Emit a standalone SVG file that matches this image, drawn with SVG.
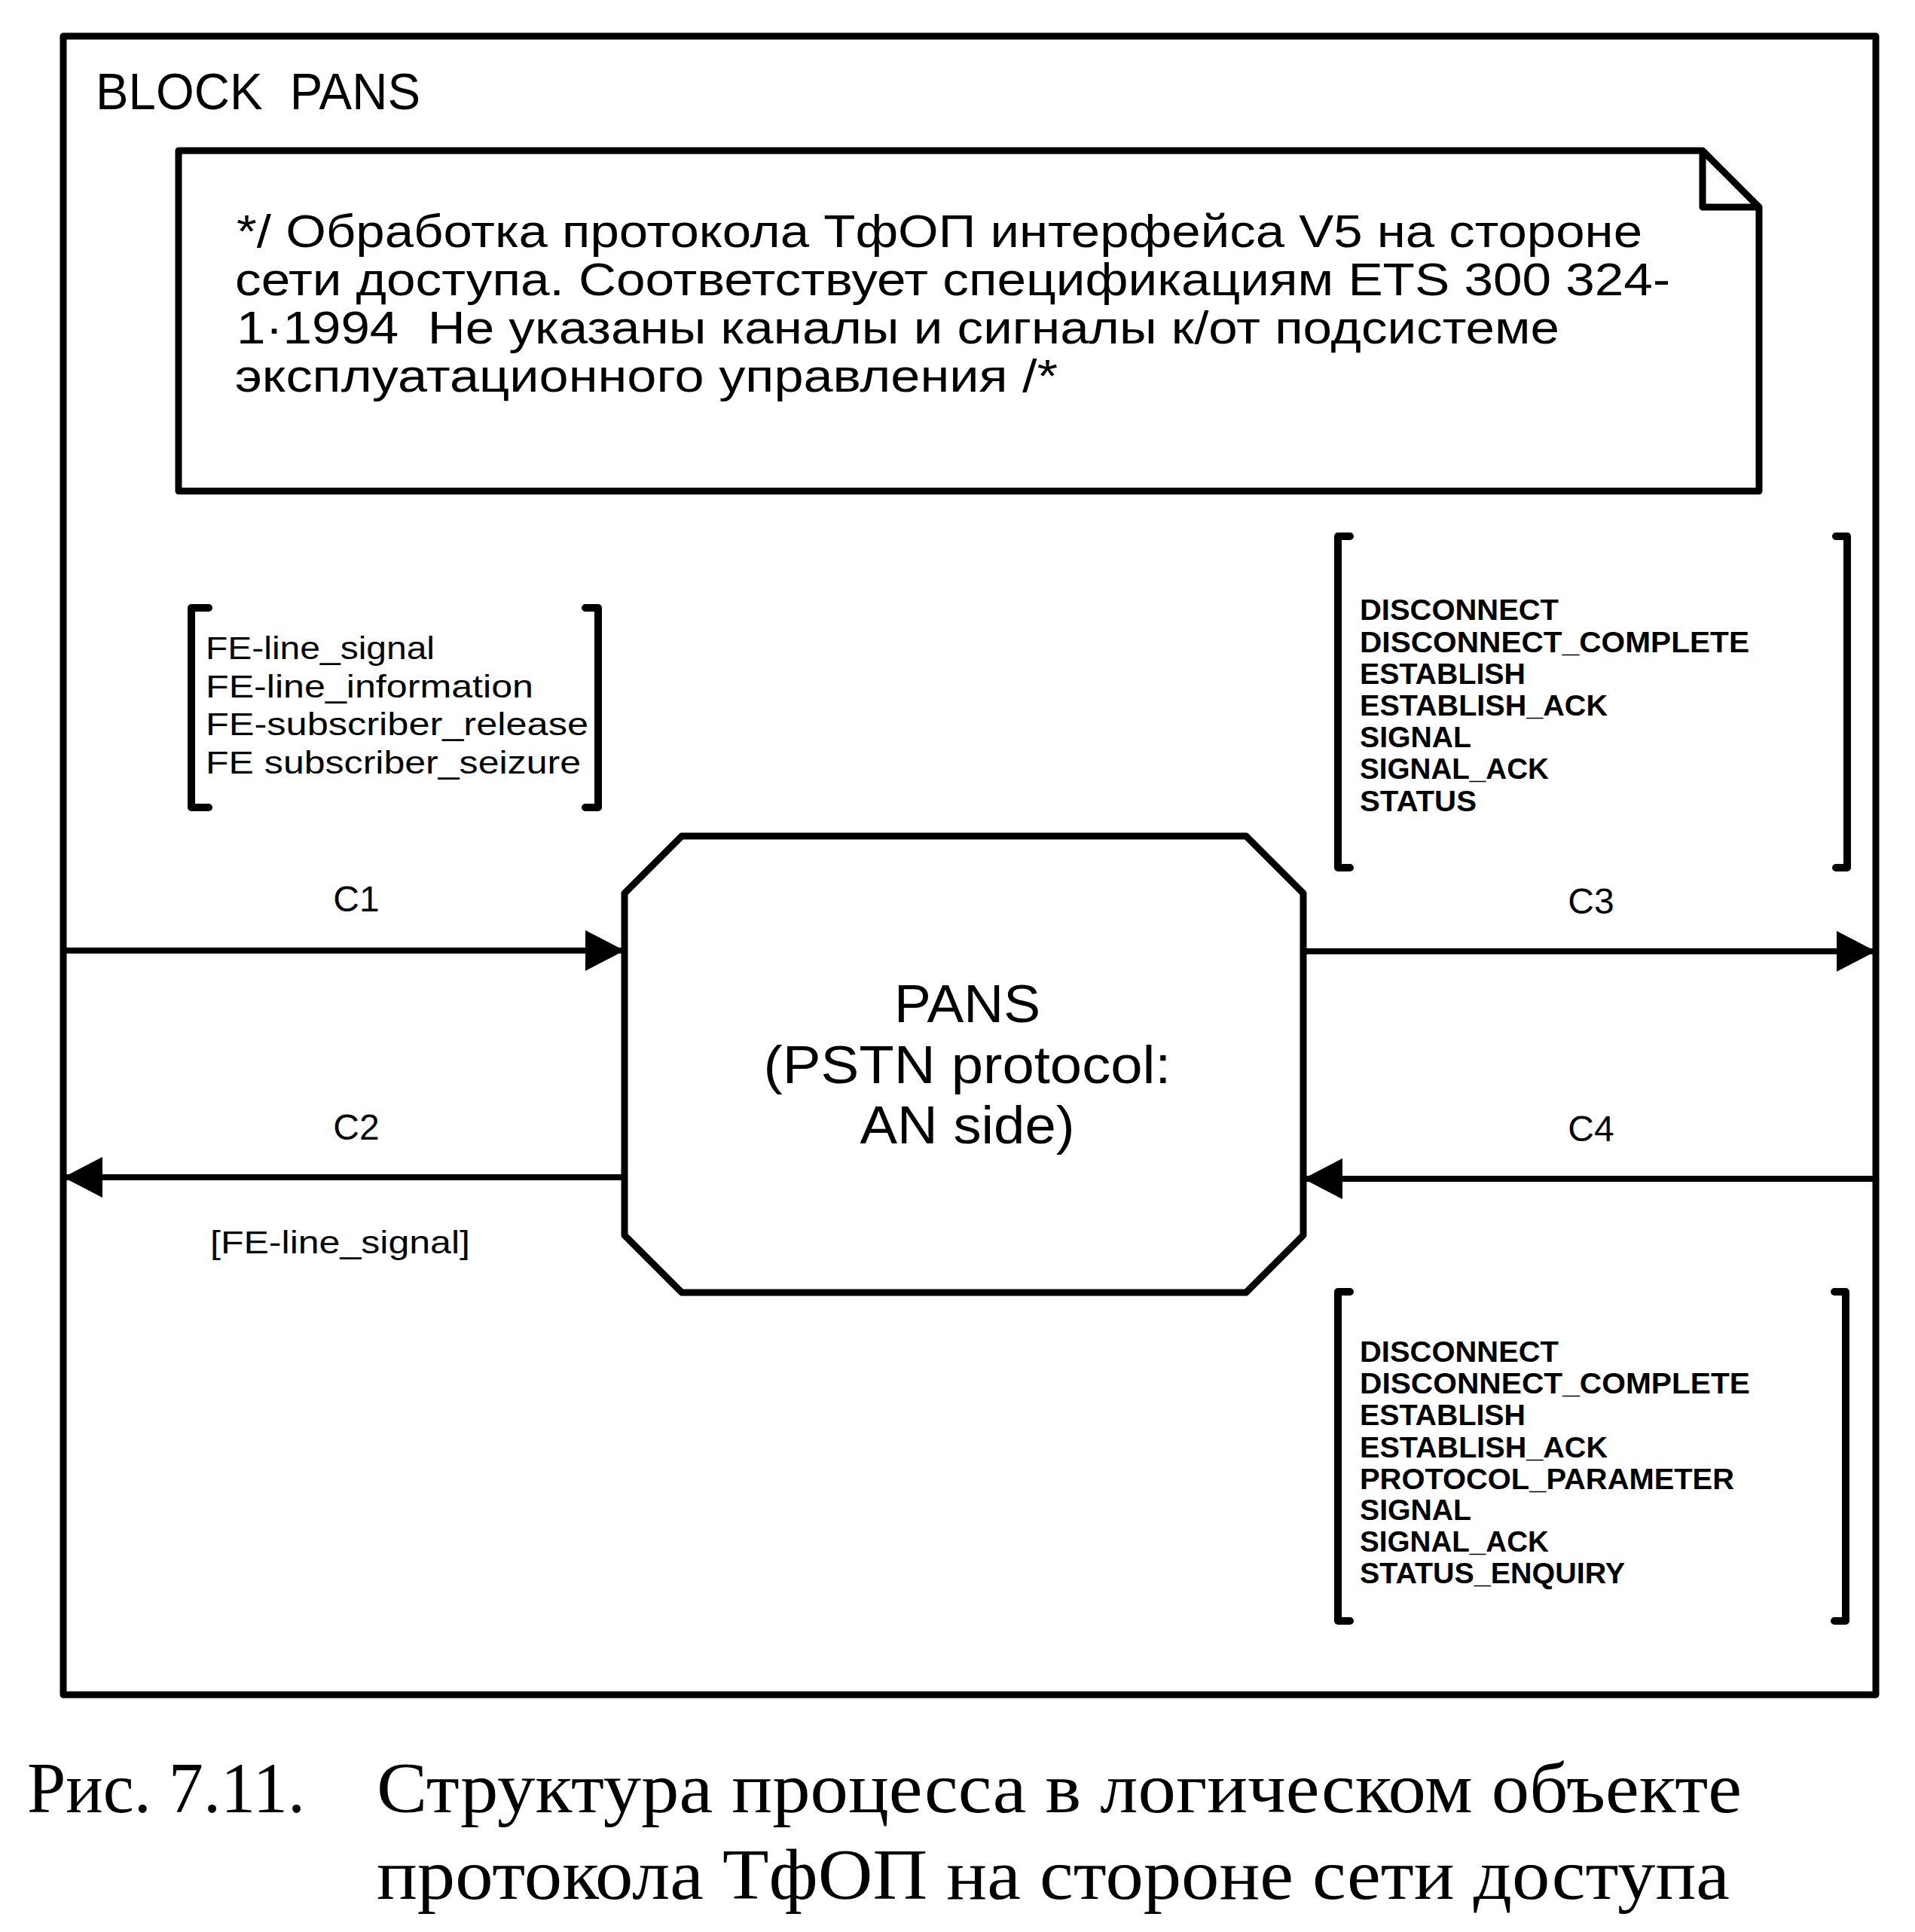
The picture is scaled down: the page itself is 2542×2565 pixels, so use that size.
<svg xmlns="http://www.w3.org/2000/svg" width="2542" height="2565" viewBox="0 0 2542 2565">
<style>
.ln{fill:none;stroke:#000;stroke-width:9;stroke-linejoin:round}
.br{fill:none;stroke:#000;stroke-width:10;stroke-linecap:round;stroke-linejoin:round}
.cn{fill:none;stroke:#000;stroke-width:8}
.sans{font-family:"Liberation Sans",Arial,Helvetica,sans-serif;fill:#000}
.cap{font-family:"Liberation Serif","Times New Roman",serif;fill:#000;font-size:96px}
.note{font-size:62px}
.sig{font-size:38px;font-weight:bold}
.fe{font-size:43px}
.lbl{font-size:48px;text-anchor:middle}
.pans{font-size:70px;text-anchor:middle}
</style>
<defs>
<marker id="ah" markerUnits="userSpaceOnUse" markerWidth="54" markerHeight="56" refX="52" refY="27" orient="auto">
<path d="M0,0 L52,27 L0,54 Z" fill="#000"/>
</marker>
</defs>
<rect width="2542" height="2565" fill="#fff"/>
<g id="block">
<rect class="ln" x="84" y="48" width="2406" height="2202"/>
<text class="sans" x="127" y="145" font-size="68" textLength="431" lengthAdjust="spacingAndGlyphs">BLOCK&#160; PANS</text>
</g>
<g id="comment">
<path class="ln" d="M237,200 H2260 L2335,275 V652 H237 Z"/>
<path class="ln" d="M2260,200 V275 H2335"/>
<text class="sans note" x="314" y="328" textLength="1866" lengthAdjust="spacingAndGlyphs">*/ Обработка протокола ТфОП интерфейса V5 на стороне</text>
<text class="sans note" x="312" y="392" textLength="1905" lengthAdjust="spacingAndGlyphs">сети доступа. Соответствует спецификациям ETS 300 324-</text>
<text class="sans note" x="314" y="456" textLength="1756" lengthAdjust="spacingAndGlyphs">1·1994&#160; Не указаны каналы и сигналы к/от подсистеме</text>
<text class="sans note" x="312" y="520" textLength="1092" lengthAdjust="spacingAndGlyphs">эксплуатационного управления /*</text>
</g>
<g id="pans">
<path class="ln" d="M905,1110 H1654 L1730,1186 V1640 L1654,1716 H905 L829,1640 V1186 Z"/>
<text class="sans pans" x="1284" y="1357" textLength="194" lengthAdjust="spacingAndGlyphs">PANS</text>
<text class="sans pans" x="1284" y="1438" textLength="541" lengthAdjust="spacingAndGlyphs">(PSTN protocol:</text>
<text class="sans pans" x="1284" y="1518" textLength="285" lengthAdjust="spacingAndGlyphs">AN side)</text>
</g>
<g id="sigs-c1">
<path class="br" d="M277,807 H254 V1072 H277"/>
<path class="br" d="M777,807 H794 V1072 H777"/>
<text class="sans fe" x="273" y="875" textLength="304" lengthAdjust="spacingAndGlyphs">FE-line_signal</text>
<text class="sans fe" x="273" y="926" textLength="435" lengthAdjust="spacingAndGlyphs">FE-line_information</text>
<text class="sans fe" x="273" y="976" textLength="508" lengthAdjust="spacingAndGlyphs">FE-subscriber_release</text>
<text class="sans fe" x="273" y="1027" textLength="498" lengthAdjust="spacingAndGlyphs">FE subscriber_seizure</text>
</g>
<g id="sigs-c2">
<text class="sans fe" x="279" y="1664" textLength="345" lengthAdjust="spacingAndGlyphs">[FE-line_signal]</text>
</g>
<g id="sigs-c3">
<path class="br" d="M1792,712 H1776 V1152 H1792"/>
<path class="br" d="M2437,712 H2452 V1152 H2437"/>
<text class="sans sig" x="1805" y="823" textLength="264" lengthAdjust="spacingAndGlyphs">DISCONNECT</text>
<text class="sans sig" x="1805" y="866" textLength="517" lengthAdjust="spacingAndGlyphs">DISCONNECT_COMPLETE</text>
<text class="sans sig" x="1805" y="908" textLength="220" lengthAdjust="spacingAndGlyphs">ESTABLISH</text>
<text class="sans sig" x="1805" y="950" textLength="329" lengthAdjust="spacingAndGlyphs">ESTABLISH_ACK</text>
<text class="sans sig" x="1805" y="992" textLength="148" lengthAdjust="spacingAndGlyphs">SIGNAL</text>
<text class="sans sig" x="1805" y="1034" textLength="251" lengthAdjust="spacingAndGlyphs">SIGNAL_ACK</text>
<text class="sans sig" x="1805" y="1077" textLength="155" lengthAdjust="spacingAndGlyphs">STATUS</text>
</g>
<g id="sigs-c4">
<path class="br" d="M1792,1715 H1776 V2152 H1792"/>
<path class="br" d="M2435,1715 H2450 V2152 H2435"/>
<text class="sans sig" x="1805" y="1808" textLength="264" lengthAdjust="spacingAndGlyphs">DISCONNECT</text>
<text class="sans sig" x="1805" y="1850" textLength="518" lengthAdjust="spacingAndGlyphs">DISCONNECT_COMPLETE</text>
<text class="sans sig" x="1805" y="1892" textLength="220" lengthAdjust="spacingAndGlyphs">ESTABLISH</text>
<text class="sans sig" x="1805" y="1935" textLength="329" lengthAdjust="spacingAndGlyphs">ESTABLISH_ACK</text>
<text class="sans sig" x="1805" y="1977" textLength="497" lengthAdjust="spacingAndGlyphs">PROTOCOL_PARAMETER</text>
<text class="sans sig" x="1805" y="2018" textLength="148" lengthAdjust="spacingAndGlyphs">SIGNAL</text>
<text class="sans sig" x="1805" y="2060" textLength="251" lengthAdjust="spacingAndGlyphs">SIGNAL_ACK</text>
<text class="sans sig" x="1805" y="2102" textLength="352" lengthAdjust="spacingAndGlyphs">STATUS_ENQUIRY</text>
</g>
<g id="connectors">
<line class="cn" x1="84" y1="1262" x2="829" y2="1262" marker-end="url(#ah)"/>
<line class="cn" x1="829" y1="1563" x2="84" y2="1563" marker-end="url(#ah)"/>
<line class="cn" x1="1730" y1="1263" x2="2490" y2="1263" marker-end="url(#ah)"/>
<line class="cn" x1="2490" y1="1565" x2="1730" y2="1565" marker-end="url(#ah)"/>
<text class="sans lbl" x="473" y="1210">C1</text>
<text class="sans lbl" x="473" y="1513">C2</text>
<text class="sans lbl" x="2112" y="1213">C3</text>
<text class="sans lbl" x="2112" y="1515">C4</text>
</g>
<g id="caption">
<text class="cap" x="36" y="2406" textLength="369" lengthAdjust="spacingAndGlyphs">Рис. 7.11.</text>
<text class="cap" x="500" y="2406" textLength="1812" lengthAdjust="spacingAndGlyphs">Структура процесса в логическом объекте</text>
<text class="cap" x="500" y="2521" textLength="1796" lengthAdjust="spacingAndGlyphs">протокола ТфОП на стороне сети доступа</text>
</g>
</svg>
